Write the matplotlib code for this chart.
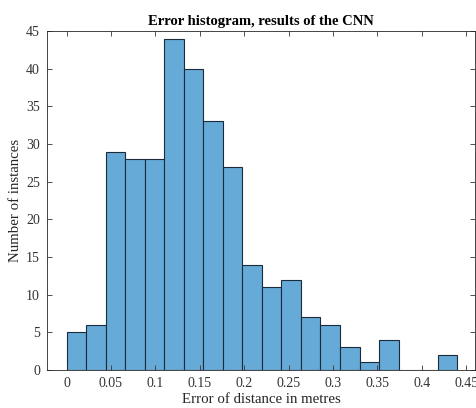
import numpy as np
import matplotlib
matplotlib.use("Agg")
import matplotlib.pyplot as plt

plt.rcParams['font.family'] = ['Liberation Serif', 'DejaVu Serif']

counts = [5, 6, 29, 28, 28, 44, 40, 33, 27, 14, 11, 12, 7, 6, 3, 1, 4, 0, 0, 2]
bin_start = 0.0
bin_width = 0.022
xticks = [0, 0.05, 0.1, 0.15, 0.2, 0.25, 0.3, 0.35, 0.4, 0.45]
xticklabels = ['0', '0.05', '0.1', '0.15', '0.2', '0.25', '0.3', '0.35', '0.4', '0.45']
yticks = list(range(0, 50, 5))

edges = bin_start + bin_width * np.arange(len(counts) + 1)

fig = plt.figure(figsize=(4.77, 4.08), dpi=100)
ax = fig.add_axes([47/477, 1 - 370/408, (475 - 47)/477, (370 - 31)/408])

ax.bar(edges[:-1], counts, width=bin_width, align='edge',
       color='#66aad7', edgecolor='#1c2b3a', linewidth=0.8)

ax.set_xlim(-0.022, 0.46)
ax.set_ylim(0, 45)
ax.set_xticks(xticks)
ax.set_xticklabels(xticklabels)
ax.set_yticks(yticks)

ax.tick_params(direction='in', top=True, right=True, length=3.5, width=0.6,
               labelsize=10, colors='#333333', pad=5)
for s in ax.spines.values():
    s.set_linewidth(0.6)
    s.set_color('#262626')

ax.set_title('Error histogram, results of the CNN', fontsize=10.5,
             fontweight='bold', pad=4)
ax.set_xlabel('Error of distance in metres', fontsize=10.7, color='#262626', labelpad=2)
ax.set_ylabel('Number of instances', fontsize=10.7, color='#262626', labelpad=3)

fig.savefig('out.png', dpi=100)
